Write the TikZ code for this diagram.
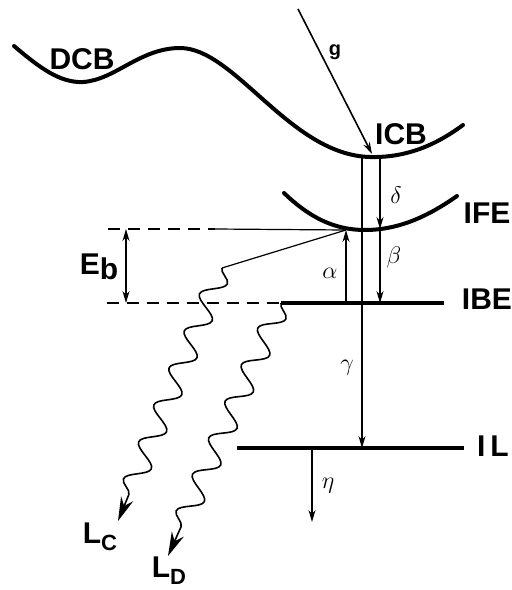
\documentclass[tikz,border=0pt]{standalone}
\usepackage{fontspec}
\setmainfont{Liberation Sans}
\usetikzlibrary{arrows.meta, decorations.pathmorphing}

\tikzset{
  band/.style={line width=2pt, line cap=round},
  level/.style={line width=2.2pt},
  trans/.style={line width=0.8pt, -{Stealth[length=6pt, width=3.5pt]}},
  glow/.style={line width=0.8pt, decorate,
    decoration={snake, amplitude=5.5pt, segment length=20pt, post length=8pt},
    -{Stealth[length=12pt, width=6.5pt]}},
  lab/.style={font=\fontsize{15}{17}\selectfont\bfseries, inner sep=1pt},
  greek/.style={font=\fontsize{12}{14}\selectfont, inner sep=1pt}
}

\begin{document}
\begin{tikzpicture}[x=0.5pt, y=-0.5pt]

\useasboundingbox (0,0) rectangle (511,590);

% points on the curves and levels
\coordinate (icbA) at (362,157);
\coordinate (icbB) at (380,158);
\coordinate (ifeA) at (346,230);
\coordinate (ifeB) at (380,229);
\coordinate (ibeA) at (346,303);
\coordinate (ibeB) at (380,303);
\coordinate (ibeC) at (362,303);
\coordinate (ibeL) at (281,303);
\coordinate (ibeR) at (444,303);
\coordinate (ilL) at (237,448);
\coordinate (ilR) at (464,448);
\coordinate (ilC) at (362,448);
\coordinate (ilE) at (312,448);
\coordinate (etaEnd) at (312,522);
\coordinate (gStart) at (298,9);
\coordinate (gEnd) at (372,154);

% DCB / ICB band
\draw[band] (14,46) .. controls (40,68) and (60,83) .. (83,82)
  .. controls (115,80) and (140,48) .. (180,48)
  .. controls (235,48) and (290,155) .. (370,157)
  .. controls (410,158) and (440,142) .. (463,125);

% IFE band
\draw[band] (284,193) .. controls (310,218) and (335,230) .. (365,230)
  .. controls (400,230) and (430,215) .. (457,196);

% levels
\draw[level] (ibeL) -- (ibeR);
\draw[level] (ilL) -- (ilR);

% labels
\node[lab] (dcb) at (82,59) {DCB};
\node[lab] (icb) at (401,134) {ICB};
\node[lab] (ife) at (487,213) {IFE};
\node[lab] (ibe) at (487,299) {IBE};
\node[lab] (il) at (493,446) {I\,L};

% transitions
\draw[trans] (gStart) -- (gEnd);
\node[font=\fontsize{10}{12}\selectfont\bfseries] (g) at (335,52) {g};
\draw[line width=0.8pt] (icbA) -- (ibeC);
\draw[trans] (ibeC) -- (ilC);
\node[greek] (gamma) at (347,368) {$\gamma$};
\draw[trans] (icbB) -- (ifeB);
\node[greek] (delta) at (396,195) {$\delta$};
\draw[trans] (ifeB) -- (ibeB);
\node[greek] (beta) at (394,257) {$\beta$};
\draw[trans] (ibeA) -- (ifeA);
\node[greek] (alpha) at (330,273) {$\alpha$};
\draw[trans] (ilE) -- (etaEnd);
\node[greek] (eta) at (328,486) {$\eta$};

% binding energy
\coordinate (ebTop) at (126,229);
\coordinate (ebBot) at (126,303);
\draw[line width=0.7pt, dash pattern=on 6pt off 4pt] (108,229) -- (215,229);
\draw[line width=0.6pt] (215,229) -- (ifeA);
\draw[line width=0.7pt, dash pattern=on 6pt off 4pt] (107,303) -- (ibeL);
\draw[line width=0.8pt, {Stealth[length=6pt, width=3.5pt]}-{Stealth[length=6pt, width=3.5pt]}] (ebTop) -- (ebBot);
\node[lab] (eb) at (99,267) {E\raisebox{-0.3ex}{b}};

% luminescence
\coordinate (lcStart) at (222,268);
\coordinate (lcEnd) at (118,521);
\coordinate (ldEnd) at (168,556);
\draw[line width=0.6pt] (ifeA) -- (lcStart);
\draw[glow] (lcStart) -- (lcEnd);
\draw[glow] (ibeL) -- (ldEnd);
\node[lab] (lc) at (100,537) {L\raisebox{-0.45ex}{\fontsize{11}{12}\selectfont C}};
\node[lab] (ld) at (169,571) {L\raisebox{-0.45ex}{\fontsize{11}{12}\selectfont D}};

\end{tikzpicture}
\end{document}
